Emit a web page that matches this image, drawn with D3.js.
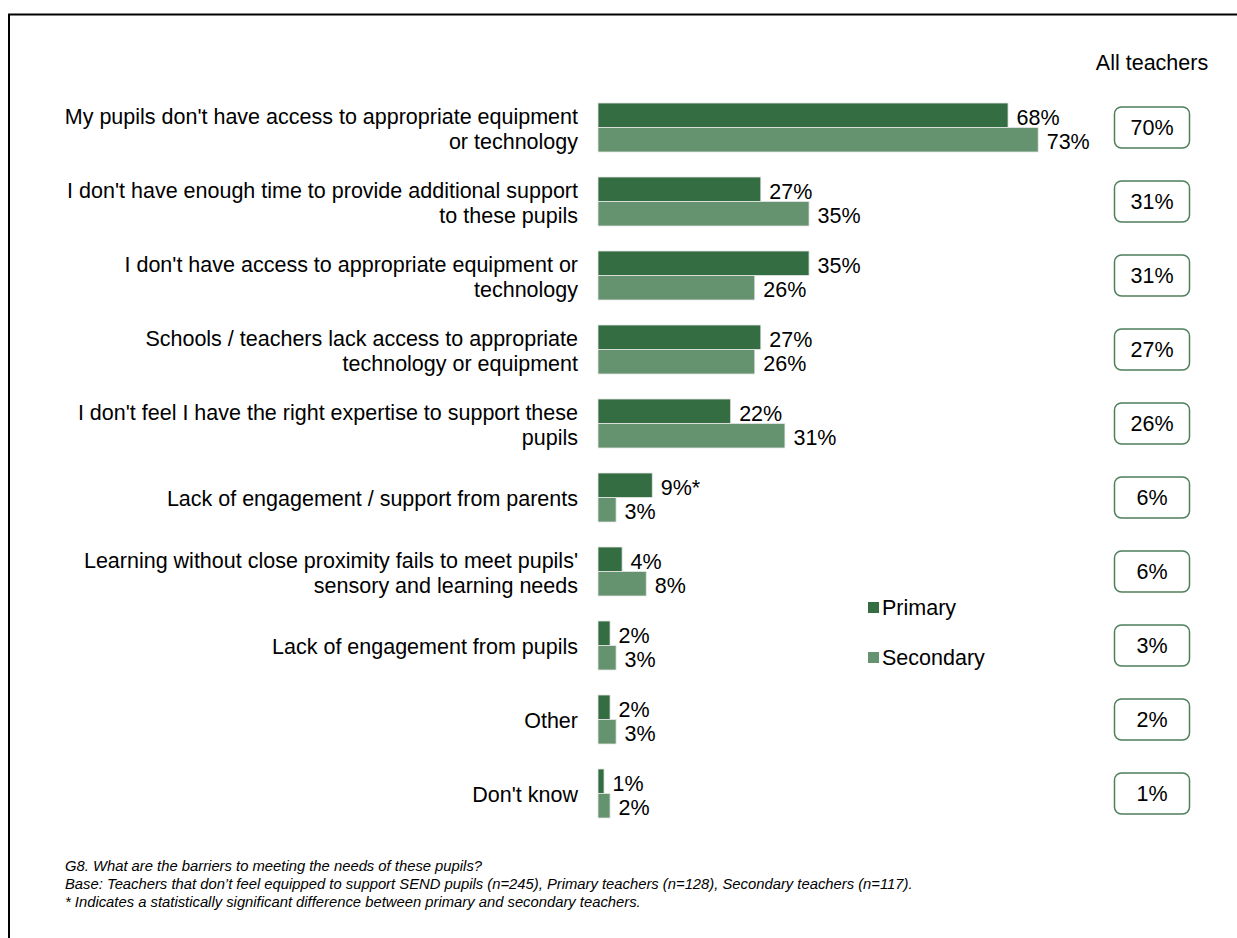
<!DOCTYPE html>
<html><head><meta charset="utf-8">
<script src="https://cdn.jsdelivr.net/npm/d3@7"></script>
<style>body{margin:0;background:#fff;} text{font-family:Arial,"Liberation Sans",sans-serif;}</style>
</head><body>
<svg id="c" width="1237" height="938"></svg>
<script>
const categories = [
  ["My pupils don't have access to appropriate equipment","or technology"],
  ["I don't have enough time to provide additional support","to these pupils"],
  ["I don't have access to appropriate equipment or","technology"],
  ["Schools / teachers lack access to appropriate","technology or equipment"],
  ["I don't feel I have the right expertise to support these","pupils"],
  ["Lack of engagement / support from parents"],
  ["Learning without close proximity fails to meet pupils'","sensory and learning needs"],
  ["Lack of engagement from pupils"],
  ["Other"],
  ["Don't know"]
];
const primary   = [68,27,35,27,22,9,4,2,2,1];
const secondary = [73,35,26,26,31,3,8,3,3,2];
const allTeachers = [70,31,31,27,26,6,6,3,2,1];
const significant = [false,false,false,false,false,true,false,false,false,false];
const seriesNames = ["Primary","Secondary"];
const colors = ["#356d43","#66936f"];
const footnotes = [
  "G8. What are the barriers to meeting the needs of these pupils?",
  "Base: Teachers that don\u2019t feel equipped to support SEND pupils (n=245), Primary teachers (n=128), Secondary teachers (n=117).",
  "* Indicates a statistically significant difference between primary and secondary teachers."
];

const svg = d3.select("#c");
svg.append("rect").attr("x",9).attr("y",14.5).attr("width",1240).attr("height",940)
  .attr("fill","none").attr("stroke","#000").attr("stroke-width",2);

const x = d3.scaleLinear().domain([0,100]).range([598, 598+603]);
const yb = d3.scaleBand().domain(d3.range(10)).range([103-12.5, 103+74*10-12.5]).paddingInner(25/74).paddingOuter(12.5/74);
const ys = d3.scaleBand().domain([0,1]).range([0, yb.bandwidth()]);
const fs = 21.5;

const rows = svg.append("g").selectAll("g").data(categories).join("g")
  .attr("transform",(d,i)=>`translate(0,${yb(i)})`);

rows.each(function(d,i){
  const g = d3.select(this);
  const vals = [primary[i], secondary[i]];
  vals.forEach((v,s)=>{
    g.append("rect").attr("x",x(0)).attr("y",ys(s)).attr("width",x(v)-x(0)).attr("height",ys.bandwidth())
      .attr("fill",colors[s]).attr("stroke","#e6e6e6").attr("stroke-width",0.8);
    g.append("text").attr("x",x(v)+8.5).attr("y",ys(s)+ys.bandwidth()/2+2).attr("dy","0.36em")
      .attr("font-size",fs).attr("fill","#000").text(v+"%"+(s===0&&significant[i]?"*":""));
  });
  const c = yb.bandwidth()/2;
  const lh = 25;
  d.forEach((line,k)=>{
    g.append("text").attr("x",578).attr("y",c + (k-(d.length-1)/2)*lh + 1).attr("dy","0.36em")
      .attr("text-anchor","end").attr("font-size",fs).attr("fill","#000").text(line);
  });
  g.append("rect").attr("x",1114.5).attr("y",c-20.5).attr("width",75).attr("height",41)
    .attr("rx",7).attr("fill","#fff").attr("stroke","#4f7f5a").attr("stroke-width",1.5);
  g.append("text").attr("x",1152).attr("y",c).attr("dy","0.36em").attr("text-anchor","middle")
    .attr("font-size",fs).attr("fill","#000").text(allTeachers[i]+"%");
});

svg.append("text").attr("x",1152).attr("y",62).attr("dy","0.36em").attr("text-anchor","middle")
  .attr("font-size",fs).text("All teachers");

const leg = svg.append("g").selectAll("g").data(seriesNames).join("g")
  .attr("transform",(d,i)=>`translate(868,${607+i*50})`);
leg.append("rect").attr("x",0).attr("y",-5).attr("width",11).attr("height",11).attr("fill",(d,i)=>colors[i]);
leg.append("text").attr("x",14).attr("y",0).attr("dy","0.36em").attr("font-size",fs).text(d=>d);

svg.append("g").selectAll("text").data(footnotes).join("text")
  .attr("x",65).attr("y",(d,i)=>866+i*18).attr("dy","0.36em")
  .attr("font-size",14.8).attr("font-style","italic").attr("fill","#000").text(d=>d);
</script>
</body></html>
